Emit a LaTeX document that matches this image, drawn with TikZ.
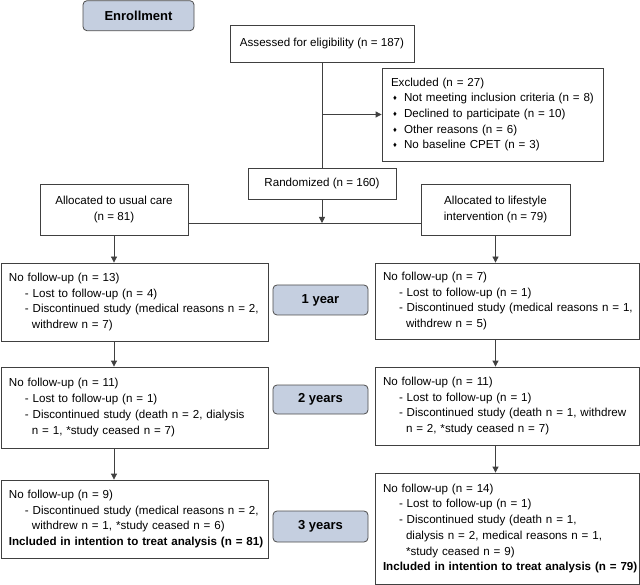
\documentclass[tikz,border=0pt]{standalone}
\usepackage{fontspec}
\setmainfont{Liberation Sans}
\usetikzlibrary{arrows.meta}

\definecolor{stagefill}{RGB}{197,207,224}
\newcommand{\fuitem}[1]{\hspace*{16pt}\mbox{- #1}}
\newcommand{\fucont}[1]{\hspace*{23pt}\mbox{#1}}
\newcommand{\exitem}[1]{\hspace*{2pt}\makebox[11pt][l]{\raisebox{1pt}{\fontsize{7.5}{7.5}\selectfont ♦}}\mbox{#1}}

\tikzset{
  box/.style={draw=black!75, line width=0.8pt, inner xsep=8pt, inner ysep=0pt,
    font=\fontsize{11.6}{15.7}\selectfont},
  lbox/.style={box, align=left},
  stage/.style={draw=black!70, line width=0.8pt, rounded corners=4pt, fill=stagefill,
    font=\bfseries\fontsize{13}{15}\selectfont, minimum width=95pt, minimum height=30pt},
  link/.style={draw=black!75, line width=0.8pt}
}

\begin{document}
\begin{tikzpicture}[x=1pt,y=-1pt,>={Triangle[length=6pt,width=6pt]}]
  \useasboundingbox (0,0) rectangle (640,585);

  \node (enrol) at (138.5,15.7) [stage, minimum width=111pt] {Enrollment};
  \node (year1) at (320.5,300) [stage] {1 year};
  \node (year2) at (320.5,399.5) [stage, minimum height=29pt] {2 years};
  \node (year3) at (320.5,526.5) [stage, minimum height=31pt] {3 years};

  \node (assessed) at (322,43.5) [box, minimum width=184pt, minimum height=37pt]
    {Assessed for eligibility (n = 187)};
  \node (excluded) at (492.5,114.5) [lbox, text width=203pt, inner xsep=9pt, minimum height=93pt]
    {Excluded (n = 27)\\
     \exitem{Not meeting inclusion criteria (n = 8)}\\
     \exitem{Declined to participate (n = 10)}\\
     \exitem{Other reasons (n = 6)}\\
     \exitem{No baseline CPET (n = 3)}};
  \node (random) at (322,183.5) [box, minimum width=148pt, minimum height=31pt]
    {Randomized (n = 160)};
  \node (usual) at (114,209.5) [box, align=center, minimum width=148pt, minimum height=51pt]
    {Allocated to usual care\\(n = 81)};
  \node (lifestyle) at (495.5,209.5) [box, align=center, minimum width=149pt, minimum height=51pt]
    {Allocated to lifestyle\\intervention (n = 79)};

  % usual care arm
  \node (usual1) at (134.4,302) [lbox, text width=251pt, minimum height=78pt]
    {No follow-up (n = 13)\\
     \fuitem{Lost to follow-up (n = 4)}\\
     \fuitem{Discontinued study (medical reasons n = 2,}\\
     \fucont{withdrew n = 7)}};
  \node (usual2) at (134.4,407.5) [lbox, text width=251pt, minimum height=81pt]
    {No follow-up (n = 11)\\
     \fuitem{Lost to follow-up (n = 1)}\\
     \fuitem{Discontinued study (death n = 2, dialysis}\\
     \fucont{n = 1, *study ceased n = 7)}};
  \node (usual3) at (134.4,519) [lbox, text width=251pt, minimum height=78pt]
    {No follow-up (n = 9)\\
     \fuitem{Discontinued study (medical reasons n = 2,}\\
     \fucont{withdrew n = 1, *study ceased n = 6)}\\
     \mbox{\bfseries Included in intention to treat analysis (n = 81)}};

  % lifestyle arm
  \node (life1) at (507.1,301) [lbox, text width=248.2pt, minimum height=76pt]
    {No follow-up (n = 7)\\
     \fuitem{Lost to follow-up (n = 1)}\\
     \fuitem{Discontinued study (medical reasons n = 1,}\\
     \fucont{withdrew n = 5)}};
  \node (life2) at (507.1,406) [lbox, text width=248.2pt, minimum height=78pt]
    {No follow-up (n = 11)\\
     \fuitem{Lost to follow-up (n = 1)}\\
     \fuitem{Discontinued study (death n = 1, withdrew}\\
     \fucont{n = 2, *study ceased n = 7)}};
  \node (life3) at (507.1,528.5) [lbox, text width=248.2pt, minimum height=111pt]
    {No follow-up (n = 14)\\
     \fuitem{Lost to follow-up (n = 1)}\\
     \fuitem{Discontinued study (death n = 1,}\\
     \fucont{dialysis n = 2, medical reasons n = 1,}\\
     \fucont{*study ceased n = 9)}\\
     \mbox{\bfseries Included in intention to treat analysis (n = 79)}};

  \coordinate (split) at (322,223);

  \draw[link] (assessed) -- (random);
  \draw[link,->] (assessed.south |- excluded.west) -- (excluded.west);
  \draw[link,->] (random) -- (split);
  \draw[link] (usual.east |- split) -- (lifestyle.west |- split);

  \draw[link,->] (usual.south) -- (usual.south |- usual1.north);
  \draw[link,->] (usual.south |- usual1.south) -- (usual.south |- usual2.north);
  \draw[link,->] (usual.south |- usual2.south) -- (usual.south |- usual3.north);

  \draw[link,->] (lifestyle.south) -- (lifestyle.south |- life1.north);
  \draw[link,->] (lifestyle.south |- life1.south) -- (lifestyle.south |- life2.north);
  \draw[link,->] (lifestyle.south |- life2.south) -- (lifestyle.south |- life3.north);
\end{tikzpicture}
\end{document}
